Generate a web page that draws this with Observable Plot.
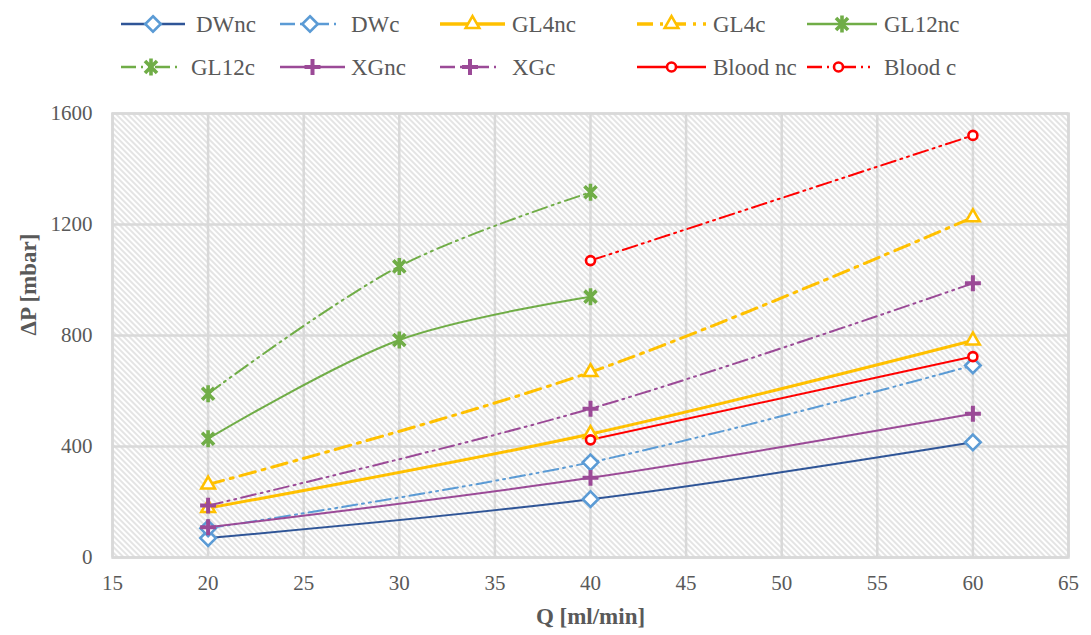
<!DOCTYPE html>
<html>
<head>
<meta charset="utf-8">
<script src="https://cdn.jsdelivr.net/npm/d3@7"></script>
<script src="https://cdn.jsdelivr.net/npm/@observablehq/plot@0.6"></script>
<style>
  body { margin: 0; background: #fff; font-family: "Liberation Serif", serif; }
  #wrap { position: relative; width: 1091px; height: 635px; }
  #legend { position: absolute; left: 0; top: 0; }
  #chart { position: absolute; left: 0; top: 90px; }
  svg text { font-family: "Liberation Serif", serif; }
</style>
</head>
<body>
<div id="wrap"><svg id="legend" width="1091" height="90"></svg><div id="chart"></div></div>
<script>
// ---- data ----
const seriesNames = ["DWnc", "DWc", "GL4nc", "GL4c", "GL12nc", "GL12c", "XGnc", "XGc", "Blood nc", "Blood c"];
const qDW = [20, 40, 60];
const DWnc = [70, 210, 415];
const DWc = [105, 343, 692];
const qGL4 = [20, 40, 60];
const GL4nc = [178, 445, 782];
const GL4c = [263, 668, 1226];
const qGL12 = [20, 30, 40];
const GL12nc = [428, 784, 940];
const GL12c = [590, 1049, 1316];
const qXG = [20, 40, 60];
const XGnc = [109, 287, 518];
const XGc = [187, 536, 988];
const qBlood = [40, 60];
const BloodNc = [424, 724];
const BloodC = [1070, 1521];
const xTicks = [15, 20, 25, 30, 35, 40, 45, 50, 55, 60, 65];
const yTicks = [0, 400, 800, 1200, 1600];

// custom star marker: X plus vertical bar
const starSymbol = {
  draw(context, size) {
    const r = Math.sqrt(size / Math.PI);
    const d = r * Math.SQRT1_2;
    context.moveTo(0, -r); context.lineTo(0, r);
    context.moveTo(-d, -d); context.lineTo(d, d);
    context.moveTo(-d, d); context.lineTo(d, -d);
  }
};

// ---- styles ----
const DDOT = "15,5,2,5,2,5";
const styles = {
  "DWnc":    {color: "#2F5597", width: 2, dash: null, sym: "diamond2", mcolor: "#5B9BD5", r: 7, mw: 2.6},
  "DWc":     {color: "#5B9BD5", width: 2, dash: DDOT, sym: "diamond2", mcolor: "#5B9BD5", r: 7, mw: 2.6},
  "GL4nc":   {color: "#FFC000", width: 3, dash: null, sym: "triangle2", mcolor: "#FFC000", r: 6.5, mw: 2.6},
  "GL4c":    {color: "#FFC000", width: 3, dash: "16,7,3,7", sym: "triangle2", mcolor: "#FFC000", r: 6.5, mw: 2.6},
  "GL12nc":  {color: "#70AD47", width: 2, dash: null, sym: "star", mcolor: "#70AD47", r: 8.5, mw: 3.6},
  "GL12c":   {color: "#70AD47", width: 2, dash: DDOT, sym: "star", mcolor: "#70AD47", r: 8.5, mw: 3.6},
  "XGnc":    {color: "#9B4A97", width: 2, dash: null, sym: "plus", mcolor: "#9B4A97", r: 5.2, mw: 4},
  "XGc":     {color: "#9B4A97", width: 2, dash: DDOT, sym: "plus", mcolor: "#9B4A97", r: 5.2, mw: 4},
  "Blood nc":{color: "#FF0000", width: 2, dash: null, sym: "circle", mcolor: "#FF0000", r: 4.5, mw: 2.6},
  "Blood c": {color: "#FF0000", width: 2, dash: DDOT, sym: "circle", mcolor: "#FF0000", r: 4.5, mw: 2.6}
};
const symMap = {diamond2: d3.symbolDiamond2, triangle2: d3.symbolTriangle2, star: starSymbol, plus: d3.symbolPlus, circle: d3.symbolCircle};

const seriesData = [
  ["DWnc", qDW, DWnc], ["DWc", qDW, DWc],
  ["GL4nc", qGL4, GL4nc], ["GL4c", qGL4, GL4c],
  ["GL12nc", qGL12, GL12nc], ["GL12c", qGL12, GL12c],
  ["XGnc", qXG, XGnc], ["XGc", qXG, XGc],
  ["Blood nc", qBlood, BloodNc], ["Blood c", qBlood, BloodC]
].map(([name, xs, ys]) => ({name, pts: xs.map((x, i) => ({q: x, p: ys[i], s: name}))}));

const FONT = '"Liberation Serif", serif';
const marks = [
  Plot.frame({fill: "url(#hatch)", stroke: "none"}),
  Plot.gridX(xTicks, {stroke: "#D9D9D9", strokeOpacity: 1, strokeWidth: 2.5}),
  Plot.gridY(yTicks, {stroke: "#D9D9D9", strokeOpacity: 1, strokeWidth: 2.5}),
  Plot.frame({stroke: "#D9D9D9", strokeWidth: 2.5, fill: "none"}),
  Plot.axisX(xTicks, {tickSize: 0, tickPadding: 18, fontSize: 21, fill: "#595959", label: null, tickFormat: d => String(d), fontFamily: FONT}),
  Plot.axisY(yTicks, {tickSize: 0, tickPadding: 20, fontSize: 21, fill: "#595959", label: null, tickFormat: d => String(d), fontFamily: FONT})
];
for (const s of seriesData) {
  const st = styles[s.name];
  marks.push(Plot.line(s.pts, {x: "q", y: "p", stroke: st.color, strokeWidth: st.width,
    strokeDasharray: st.dash || undefined, curve: "catmull-rom"}));
}
for (const s of seriesData) {
  const st = styles[s.name];
  marks.push(Plot.dot(s.pts, {x: "q", y: "p", symbol: symMap[st.sym], r: st.r, stroke: st.mcolor,
    strokeWidth: st.mw, fill: (st.sym === "plus" || st.sym === "star") ? "none" : "white"}));
}

const chart = Plot.plot({
  width: 1091, height: 545,
  marginLeft: 112, marginRight: 23, marginTop: 23, marginBottom: 78,
  x: {domain: [15, 65]},
  y: {domain: [0, 1600]},
  style: {fontFamily: FONT, background: "transparent", overflow: "visible"},
  marks: [
    ...marks,
    Plot.text(["Q [ml/min]"], {frameAnchor: "bottom", dy: 66, fontSize: 23, fontWeight: "bold", fill: "#595959", fontFamily: FONT}),
    Plot.text(["ΔP [mbar]"], {frameAnchor: "left", dx: -84, rotate: -90, fontSize: 23, fontWeight: "bold", fill: "#595959", fontFamily: FONT})
  ]
});
document.getElementById("chart").appendChild(chart);
const defs = d3.select(chart).insert("defs", ":first-child");
const pat = defs.append("pattern").attr("id", "hatch").attr("patternUnits", "userSpaceOnUse")
  .attr("width", 4).attr("height", 4).attr("patternTransform", "rotate(-45)");
pat.append("rect").attr("width", 4).attr("height", 4).attr("fill", "#ffffff");
pat.append("line").attr("x1", 1).attr("y1", 0).attr("x2", 1).attr("y2", 4)
  .attr("stroke", "#D6D6D6").attr("stroke-width", 1.3);

// ---- legend ----
const leg = d3.select("#legend");
const legendPos = [
  ["DWnc", 121, 185, 196, 24], ["DWc", 280, 340, 351, 24], ["GL4nc", 440, 505, 512, 24],
  ["GL4c", 637, 706, 713, 24], ["GL12nc", 807, 877, 884, 24],
  ["GL12c", 121, 181, 191, 67], ["XGnc", 280, 345, 351, 67], ["XGc", 440, 500, 512, 67],
  ["Blood nc", 637, 706, 713, 67], ["Blood c", 807, 870, 884, 67]
];
for (const [name, x1, x2, tx, y] of legendPos) {
  const st = styles[name];
  leg.append("line").attr("x1", x1).attr("x2", x2).attr("y1", y).attr("y2", y)
    .attr("stroke", st.color).attr("stroke-width", st.width + 0.5)
    .attr("stroke-dasharray", st.dash || null);
  const cx = (x1 + x2) / 2;
  const sym = st.sym;
  const filled = !(sym === "plus" || sym === "star");
  leg.append("path").attr("transform", `translate(${cx},${y})`)
    .attr("d", d3.symbol(symMap[sym], st.r * st.r * Math.PI)())
    .attr("fill", filled ? "white" : "none").attr("stroke", st.mcolor).attr("stroke-width", st.mw);
  leg.append("text").attr("x", tx).attr("y", y).attr("dy", "0.35em")
    .style("font-family", FONT).attr("font-size", 23).attr("fill", "#595959").text(name);
}
</script>
</body>
</html>
